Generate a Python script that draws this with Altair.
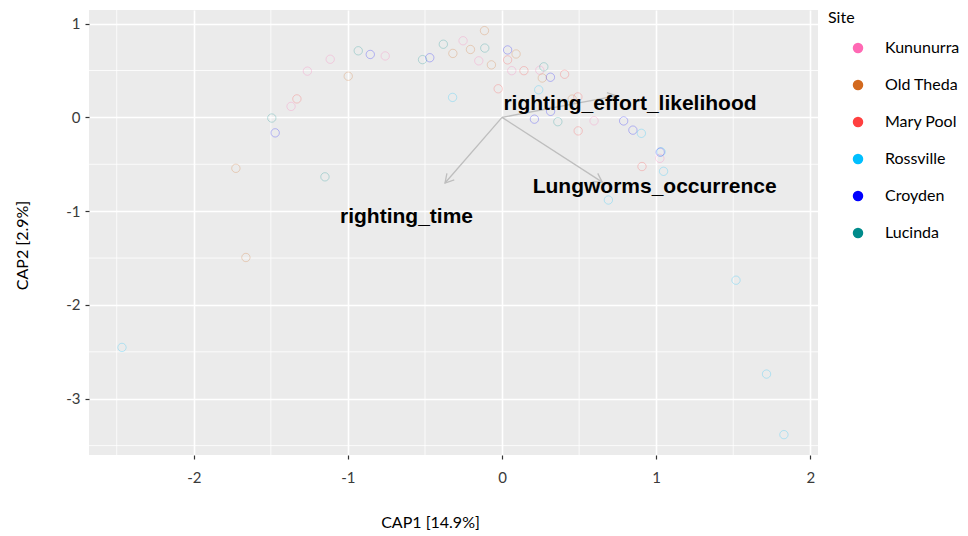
import math
import altair as alt
import pandas as pd

# ---- data ----
sites = ["Kununurra", "Old Theda", "Mary Pool", "Rossville", "Croyden", "Lucinda"]
site_colors = ["#FF69B4", "#D2691E", "#FF4040", "#00BFFF", "#0000FF", "#008B8B"]

cap1 = [-2.466, -1.727, -1.662, -1.149, -1.494, -1.472, -1.369, -1.331, -1.263, -1.115,
        -0.998, -0.933, -0.855, -0.758, -0.516, -0.469, -0.381, -0.321, -0.319, -0.253,
        -0.205, -0.114, -0.112, -0.151, -0.069, 0.036, 0.091, 0.036, 0.063, 0.142,
        0.245, 0.271, 0.261, 0.314, 0.406, -0.025, 0.238, 0.455, 0.492, 0.210,
        0.362, 0.315, 0.597, 0.494, 0.789, 0.849, 0.904, 1.032, 1.026, 1.024,
        0.908, 1.048, 0.690, 1.518, 1.716, 1.829]
cap2 = [-2.453, -0.543, -1.494, -0.634, -0.007, -0.165, 0.117, 0.197, 0.493, 0.620,
        0.439, 0.710, 0.671, 0.655, 0.616, 0.636, 0.780, 0.213, 0.682, 0.817,
        0.724, 0.925, 0.739, 0.603, 0.560, 0.719, 0.676, 0.613, 0.498, 0.498,
        0.503, 0.539, 0.420, 0.428, 0.460, 0.305, 0.294, 0.195, 0.218, -0.019,
        -0.046, 0.064, -0.037, -0.144, -0.038, -0.136, -0.170, -0.367, -0.371, -0.437,
        -0.524, -0.575, -0.881, -1.736, -2.737, -3.383]
site = ["Rossville", "Old Theda", "Old Theda", "Lucinda", "Lucinda", "Croyden", "Kununurra", "Mary Pool", "Kununurra", "Kununurra",
        "Old Theda", "Lucinda", "Croyden", "Kununurra", "Lucinda", "Croyden", "Lucinda", "Rossville", "Old Theda", "Kununurra",
        "Old Theda", "Old Theda", "Lucinda", "Kununurra", "Old Theda", "Croyden", "Old Theda", "Mary Pool", "Kununurra", "Mary Pool",
        "Kununurra", "Lucinda", "Old Theda", "Croyden", "Mary Pool", "Mary Pool", "Rossville", "Old Theda", "Mary Pool", "Croyden",
        "Lucinda", "Croyden", "Kununurra", "Mary Pool", "Croyden", "Croyden", "Rossville", "Rossville", "Croyden", "Kununurra",
        "Mary Pool", "Rossville", "Rossville", "Rossville", "Rossville", "Rossville"]

vec_names = ["righting_effort_likelihood", "Lungworms_occurrence", "righting_time"]
vec_x = [0.74, 0.65, -0.37]
vec_y = [0.23, -0.69, -0.70]
label_x = [0.83, 0.99, -0.62]
label_y = [0.14, -0.74, -1.06]

major_x = [-2, -1, 0, 1, 2]
major_y = [1, 0, -1, -2, -3]
minor_x = [-2.5, -1.5, -0.5, 0.5, 1.5]
minor_y = [0.5, -0.5, -1.5, -2.5, -3.5]

x_domain = [-2.68, 2.05]
y_domain = [-3.60, 1.145]
W, H = 729, 445

# ---- tables ----
pts = pd.DataFrame({"CAP1": cap1, "CAP2": cap2, "Site": site})
px_per_x = W / (x_domain[1] - x_domain[0])
px_per_y = H / (y_domain[1] - y_domain[0])
angles = [math.degrees(math.atan2(vx * px_per_x, vy * px_per_y)) % 360 for vx, vy in zip(vec_x, vec_y)]
vec = pd.DataFrame({"name": vec_names, "vx": vec_x, "vy": vec_y, "lx": label_x, "ly": label_y,
                    "ox": [0.0] * 3, "oy": [0.0] * 3, "ang": angles})
mx = pd.DataFrame({"v": minor_x})
my = pd.DataFrame({"v": minor_y})

xs = alt.Scale(domain=x_domain, nice=False, zero=False)
ys = alt.Scale(domain=y_domain, nice=False, zero=False)
XT = "CAP1 [14.9%]"
YT = "CAP2 [2.9%]"
hyphen = "datum.value < 0 ? '-' + abs(datum.value) : '' + datum.value"
xa = alt.Axis(values=major_x, labelExpr=hyphen)
ya = alt.Axis(values=major_y, labelExpr=hyphen)


def X(f):
    return alt.X(f, scale=xs, title=XT, axis=xa)


def Y(f):
    return alt.Y(f, scale=ys, title=YT, axis=ya)


grid_v = alt.Chart(mx).mark_rule(color="white", strokeWidth=0.8).encode(x=X("v:Q"))
grid_h = alt.Chart(my).mark_rule(color="white", strokeWidth=0.8).encode(y=Y("v:Q"))

legend_layer = alt.Chart(pts).mark_point(filled=True, size=0, shape="circle").encode(
    x=X("CAP1:Q"),
    y=Y("CAP2:Q"),
    color=alt.Color("Site:N", scale=alt.Scale(domain=sites, range=site_colors),
                    sort=sites,
                    legend=alt.Legend(title="Site", orient="none", legendX=739, legendY=0,
                                      symbolOpacity=1, symbolSize=110, symbolType="circle",
                                      symbolStrokeWidth=0, symbolOffset=22, labelOffset=19,
                                      rowPadding=21, titlePadding=14,
                                      labelFont="Lato", labelFontSize=16, labelColor="black",
                                      titleFont="Lato", titleFontSize=16, titleFontWeight="normal",
                                      titleColor="black")),
)

points = alt.Chart(pts).mark_point(filled=False, size=70, strokeWidth=1, strokeOpacity=0.35, shape="circle").encode(
    x=X("CAP1:Q"),
    y=Y("CAP2:Q"),
    stroke=alt.Stroke("Site:N", scale=alt.Scale(domain=sites, range=site_colors), legend=None),
)

arrows = alt.Chart(vec).mark_rule(color="#BEBEBE", strokeWidth=1.3).encode(
    x=X("ox:Q"), x2="vx:Q",
    y=Y("oy:Q"), y2="vy:Q",
)
heads = alt.Chart(vec).mark_point(shape="M -0.5 0.87 L 0 0 L 0.5 0.87", filled=False, size=380,
                                  color="#BEBEBE", strokeWidth=1.3, opacity=1).encode(
    x=X("vx:Q"),
    y=Y("vy:Q"),
    angle=alt.Angle("ang:Q", scale=None),
)
labels = alt.Chart(vec).mark_text(font="Liberation Sans", fontWeight="bold", fontSize=21,
                                  color="black", baseline="middle", align="center").encode(
    x=X("lx:Q"),
    y=Y("ly:Q"),
    text="name:N",
)

chart = alt.layer(grid_v, grid_h, legend_layer, points, arrows, heads, labels).properties(
    width=W, height=H,
    autosize=alt.AutoSizeParams(type="none"),
    padding={"left": 89, "top": 10, "right": 150, "bottom": 81},
    background="white",
).configure_view(fill="#EBEBEB", stroke=None).configure_axis(
    grid=True, gridColor="white", gridWidth=1.6, domain=False,
    tickColor="#333333", tickSize=4, tickWidth=1.2,
    labelFont="Lato", labelFontSize=15, labelColor="#3A3A3A",
    titleFont="Lato", titleFontSize=16, titleFontWeight="normal", titleColor="black",
).configure_axisX(
    labelPadding=11, titleX=341, titleY=72, titleBaseline="alphabetic",
).configure_axisY(
    labelPadding=5, titleX=-67, titleY=235, titleBaseline="middle",
)

chart.save("out.html", embed_options={"renderer": "svg", "actions": False})
